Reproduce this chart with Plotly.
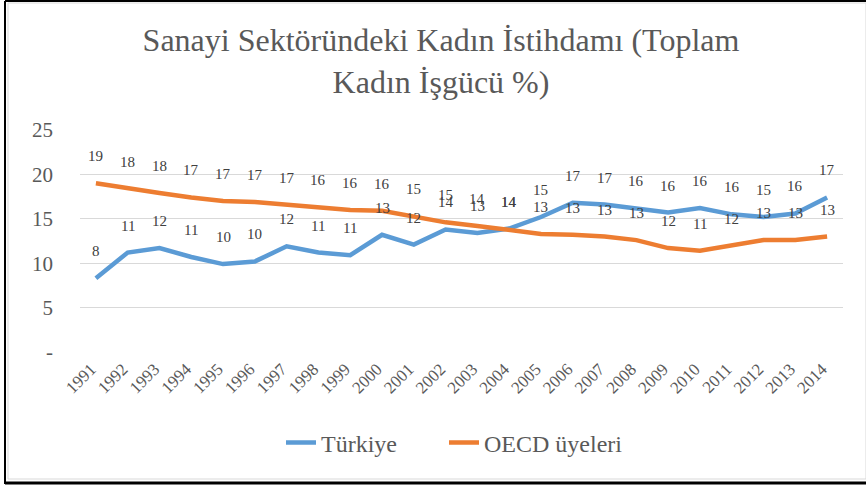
import plotly.graph_objects as go

years = [str(y) for y in range(1991, 2015)]
turkiye = [8.3, 11.2, 11.7, 10.7, 9.9, 10.2, 11.9, 11.2, 10.9, 13.2, 12.1, 13.8,
           13.4, 13.9, 15.2, 16.8, 16.6, 16.2, 15.7, 16.2, 15.5, 15.2, 15.6, 17.4]
oecd = [19.0, 18.4, 17.9, 17.4, 17.0, 16.9, 16.6, 16.3, 16.0, 15.9, 15.3, 14.6,
        14.2, 13.8, 13.3, 13.2, 13.0, 12.6, 11.7, 11.4, 11.95, 12.6, 12.6, 13.0]
ytick_vals = [0, 5, 10, 15, 20, 25]
ytick_text = ["-", "5", "10", "15", "20", "25"]

FONT = "Times New Roman, Liberation Serif, serif"
GREY = "#595959"
BLUE = "#5B9BD5"
ORANGE = "#ED7D31"

fig = go.Figure()
fig.add_trace(go.Scatter(x=years, y=turkiye, mode="lines", name="Türkiye",
                         line=dict(color=BLUE, width=4.5), legend="legend",
                         showlegend=True))
fig.add_trace(go.Scatter(x=years, y=oecd, mode="lines", name="OECD üyeleri",
                         line=dict(color=ORANGE, width=4.5), legend="legend2",
                         showlegend=True))

annotations = []
for series in (turkiye, oecd):
    for i, v in enumerate(series):
        annotations.append(dict(x=i, y=v, xref="x", yref="y", text=str(int(v + 0.5)),
                                showarrow=False, yshift=27,
                                font=dict(family=FONT, size=15, color="#404040")))

W, H = 866, 486
L, R, T, B = 80, 23, 130, 134
pw, ph = W - L - R, H - T - B

def px(xp):
    return (xp - L) / pw

def py(yp):
    return (H - B - yp) / ph

shapes = [
    dict(type="rect", xref="paper", yref="paper", x0=px(8), x1=px(866), y0=py(479), y1=py(3),
         line=dict(color="#D9D9D9", width=1)),
    dict(type="line", xref="paper", yref="paper", x0=px(5), x1=px(866), y0=py(1), y1=py(1),
         line=dict(color="black", width=2)),
    dict(type="line", xref="paper", yref="paper", x0=px(5), x1=px(5), y0=py(1), y1=py(484),
         line=dict(color="black", width=2)),
    dict(type="line", xref="paper", yref="paper", x0=px(5), x1=px(866), y0=py(483), y1=py(483),
         line=dict(color="black", width=3)),
]

legend_style = dict(orientation="h", xanchor="left", y=py(443), yanchor="middle",
                    font=dict(family=FONT, size=24, color=GREY),
                    bgcolor="rgba(0,0,0,0)", visible=True)

fig.update_layout(
    width=W, height=H,
    showlegend=True,
    margin=dict(l=L, r=R, t=T, b=B),
    paper_bgcolor="white", plot_bgcolor="white",
    title=dict(text="Sanayi Sektöründeki Kadın İstihdamı (Toplam<br>Kadın İşgücü %)",
               x=441 / W, xanchor="center", y=1 - 51 / H, yanchor="middle",
               font=dict(family=FONT, size=32, color=GREY)),
    font=dict(family=FONT, color=GREY),
    xaxis=dict(type="category", range=[-0.5, len(years) - 0.5], autorange=False,
               tickangle=-45, showgrid=False, showline=False,
               tickfont=dict(family=FONT, size=17, color=GREY), ticks="",
               ticklabelstandoff=3, ticklabelshift=-5),
    yaxis=dict(range=[0, 25], autorange=False, tickvals=ytick_vals, ticktext=ytick_text,
               showgrid=True, gridcolor="#D9D9D9", gridwidth=1, zeroline=False,
               showline=False, ticks="", ticklabelstandoff=26,
               tickfont=dict(family=FONT, size=21, color=GREY)),
    legend=dict(x=px(281), **legend_style),
    legend2=dict(x=px(444), **legend_style),
    annotations=annotations,
    shapes=shapes,
)

fig.write_html("out.html", config={"displayModeBar": False},
               post_script="document.body.style.margin='0';")
